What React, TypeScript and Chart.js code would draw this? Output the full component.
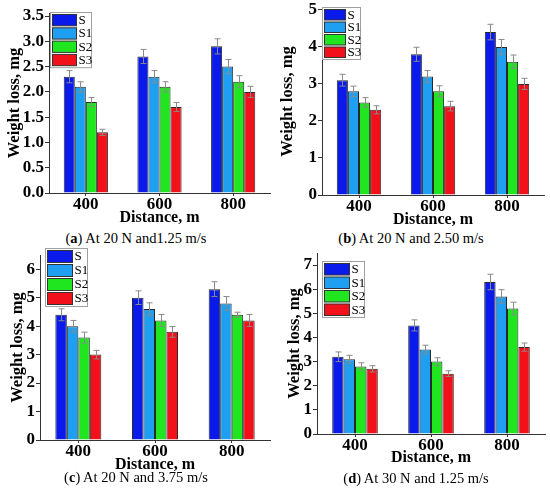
import { useEffect, useRef } from 'react'
import { Chart, registerables } from 'chart.js'

Chart.register(...registerables)

const distances = ['400', '600', '800']
const seriesNames = ['S', 'S1', 'S2', 'S3']
const seriesColors = ['#0a1aeb', '#1f9ff2', '#1fe61f', '#f2101a']

// weight loss in mg, one row per series (S, S1, S2, S3), one column per distance
const lossA = [
  [2.3, 2.7, 2.9],
  [2.1, 2.3, 2.5],
  [1.8, 2.1, 2.2],
  [1.2, 1.7, 2.0]
]
const errA = [
  [0.12, 0.14, 0.15],
  [0.1, 0.12, 0.14],
  [0.09, 0.1, 0.12],
  [0.06, 0.09, 0.11]
]
const ticksA = [0, 0.5, 1, 1.5, 2, 2.5, 3, 3.5]

const lossB = [
  [3.1, 3.8, 4.4],
  [2.8, 3.2, 4.0],
  [2.5, 2.8, 3.6],
  [2.3, 2.4, 3.0]
]
const errB = [
  [0.16, 0.19, 0.21],
  [0.14, 0.16, 0.2],
  [0.13, 0.15, 0.18],
  [0.11, 0.13, 0.15]
]
const ticksB = [0, 1, 2, 3, 4, 5]

const lossC = [
  [4.4, 5.0, 5.3],
  [4.0, 4.6, 4.8],
  [3.6, 4.2, 4.4],
  [3.0, 3.8, 4.2]
]
const errC = [
  [0.21, 0.24, 0.26],
  [0.2, 0.22, 0.24],
  [0.19, 0.21, 0.09],
  [0.15, 0.19, 0.21]
]
const ticksC = [0, 1, 2, 3, 4, 5, 6]

const lossD = [
  [3.2, 4.5, 6.3],
  [3.1, 3.5, 5.7],
  [2.8, 3.0, 5.2],
  [2.7, 2.5, 3.6]
]
const errD = [
  [0.2, 0.23, 0.32],
  [0.16, 0.18, 0.28],
  [0.15, 0.16, 0.26],
  [0.13, 0.12, 0.17]
]
const ticksD = [0, 1, 2, 3, 4, 5, 6, 7]

const serif = '"Liberation Serif", "Times New Roman", serif'

const errorBars = {
  id: 'errorBars',
  afterDatasetsDraw(chart: any) {
    const { ctx } = chart
    const yScale = chart.scales.y
    ctx.save()
    ctx.strokeStyle = '#8a8a8a'
    ctx.lineWidth = 1
    chart.data.datasets.forEach((ds: any, i: number) => {
      const meta = chart.getDatasetMeta(i)
      meta.data.forEach((bar: any, j: number) => {
        const v = ds.data[j]
        const e = ds.errors[j]
        const x = Math.round(bar.x) + 0.5
        const top = yScale.getPixelForValue(v + e)
        const bot = yScale.getPixelForValue(v - e)
        ctx.beginPath()
        ctx.moveTo(x, top)
        ctx.lineTo(x, bot)
        ctx.moveTo(x - 3, top)
        ctx.lineTo(x + 3, top)
        ctx.moveTo(x - 3, bot)
        ctx.lineTo(x + 3, bot)
        ctx.stroke()
      })
    })
    ctx.restore()
  }
}

const boxLegend = {
  id: 'boxLegend',
  afterDraw(chart: any, _args: any, opts: any) {
    const { ctx, chartArea } = chart
    const x0 = Math.round(chartArea.left + opts.dx) + 0.5
    const y0 = Math.round(chartArea.top + opts.dy) + 0.5
    const sets = chart.data.datasets
    const w = opts.swatch + 17
    const h = sets.length * opts.row + 2
    ctx.save()
    ctx.fillStyle = '#ffffff'
    ctx.fillRect(x0, y0, w, h)
    ctx.strokeStyle = '#a0a0a0'
    ctx.lineWidth = 1
    ctx.strokeRect(x0, y0, w, h)
    ctx.font = `13px ${serif}`
    ctx.textBaseline = 'middle'
    sets.forEach((ds: any, i: number) => {
      const sy = y0 + 1 + i * opts.row
      ctx.fillStyle = ds.backgroundColor
      ctx.fillRect(x0 + 2, sy + 1, opts.swatch, opts.row - 2)
      ctx.strokeStyle = '#333333'
      ctx.strokeRect(x0 + 2, sy + 1, opts.swatch, opts.row - 2)
      ctx.fillStyle = '#000000'
      ctx.fillText(ds.label, x0 + opts.swatch + 4, sy + opts.row / 2 + 0.5)
    })
    ctx.restore()
  }
}

interface PanelProps {
  loss: number[][]
  err: number[][]
  ticks: number[]
  decimals: number
  yMax: number
  left: number
  top: number
  height: number
  axisX: number
  areaTop: number
  padRight: number
  xAxisH: number
  titlePad: number
  legend: { dx: number; dy: number; row: number; swatch: number }
  caption: string
  tag: string
  capX: number
  capY: number
}

function Panel(p: PanelProps) {
  const canvasRef = useRef<HTMLCanvasElement>(null)

  useEffect(() => {
    if (!canvasRef.current) return () => {}
    const chart = new Chart(canvasRef.current, {
      type: 'bar',
      data: {
        labels: distances,
        datasets: seriesNames.map((name, i) => ({
          label: name,
          data: p.loss[i],
          errors: p.err[i],
          backgroundColor: seriesColors[i],
          borderColor: '#2a2a2a',
          borderWidth: 1,
          categoryPercentage: 0.6,
          barPercentage: 1
        })) as any
      },
      options: {
        animation: false,
        responsive: false,
        layout: { padding: { top: p.areaTop, right: p.padRight, left: 0, bottom: 0 } },
        plugins: {
          legend: { display: false },
          tooltip: { enabled: false },
          boxLegend: p.legend
        } as any,
        scales: {
          x: {
            type: 'category',
            offset: true,
            grid: {
              drawOnChartArea: false,
              drawTicks: true,
              tickLength: 3,
              color: '#333333',
              offset: false
            },
            border: { display: true, color: '#333333' },
            ticks: {
              color: '#000000',
              padding: -2,
              font: { family: serif, size: 17, weight: 'bold' }
            },
            title: {
              display: true,
              text: 'Distance, m',
              color: '#000000',
              padding: 0,
              font: { family: serif, size: 16, weight: 'bold' }
            },
            afterFit(s: any) {
              s.height = p.xAxisH
              s.paddingLeft = 0
              s.paddingRight = 0
            }
          },
          y: {
            type: 'linear',
            min: 0,
            max: p.yMax,
            afterBuildTicks(s: any) {
              s.ticks = p.ticks.map(v => ({ value: v }))
            },
            grid: {
              drawOnChartArea: false,
              drawTicks: true,
              tickLength: 4,
              color: '#333333'
            },
            border: { display: true, color: '#333333' },
            ticks: {
              color: '#000000',
              padding: 1,
              font: { family: serif, size: 17, weight: 'bold' },
              callback: (v: any) => Number(v).toFixed(p.decimals)
            },
            title: {
              display: true,
              text: 'Weight loss, mg',
              color: '#000000',
              padding: { top: p.titlePad, bottom: 0 },
              font: { family: serif, size: 16.5, weight: 'bold' }
            },
            afterFit(s: any) {
              s.width = p.axisX
              s.paddingTop = 0
              s.paddingBottom = 0
            }
          }
        }
      },
      plugins: [errorBars, boxLegend]
    })
    return () => {
      chart.destroy()
    }
  }, [p])

  return (
    <>
      <canvas
        ref={canvasRef}
        width={275}
        height={p.height}
        style={{ position: 'absolute', left: p.left, top: p.top, width: 275, height: p.height }}
      />
      <div
        style={{
          position: 'absolute',
          left: p.capX,
          top: p.capY - 9,
          transform: 'translateX(-50%)',
          whiteSpace: 'nowrap',
          fontFamily: serif,
          fontSize: 14.5,
          lineHeight: '18px',
          color: '#000'
        }}
      >
        (<b>{p.tag}</b>) {p.caption}
      </div>
    </>
  )
}

const panelA: PanelProps = {
  loss: lossA, err: errA, ticks: ticksA, decimals: 1, yMax: 3.56,
  left: 0, top: 0, height: 227, axisX: 49, areaTop: 13, padRight: 5, xAxisH: 34, titlePad: 5,
  legend: { dx: 1, dy: -1, row: 13.3, swatch: 24 },
  tag: 'a', caption: 'At 20 N and1.25 m/s', capX: 136, capY: 238
}
const panelB: PanelProps = {
  loss: lossB, err: errB, ticks: ticksB, decimals: 0, yMax: 5.05,
  left: 275, top: 0, height: 229, axisX: 47, areaTop: 8, padRight: 6, xAxisH: 34, titlePad: 3,
  legend: { dx: 0, dy: -1, row: 12.5, swatch: 21 },
  tag: 'b', caption: 'At 20 N and 2.50 m/s', capX: 411, capY: 238
}
const panelC: PanelProps = {
  loss: lossC, err: errC, ticks: ticksC, decimals: 0, yMax: 6.5,
  left: 0, top: 248, height: 226, axisX: 40, areaTop: 7, padRight: 5, xAxisH: 34, titlePad: 8,
  legend: { dx: 5, dy: -7, row: 14, swatch: 25 },
  tag: 'c', caption: 'At 20 N and 3.75 m/s', capX: 136, capY: 477
}
const panelD: PanelProps = {
  loss: lossD, err: errD, ticks: ticksD, decimals: 0, yMax: 7.5,
  left: 275, top: 248, height: 219, axisX: 42, areaTop: 5, padRight: 5, xAxisH: 33, titlePad: 10,
  legend: { dx: 5, dy: 8, row: 13.5, swatch: 25 },
  tag: 'd', caption: 'At 30 N and 1.25 m/s', capX: 416, capY: 478
}

export default function App() {
  return (
    <div
      style={{
        position: 'absolute',
        left: 0,
        top: 0,
        width: 550,
        height: 498,
        background: '#ffffff',
        overflow: 'hidden'
      }}
    >
      <Panel {...panelA} />
      <Panel {...panelB} />
      <Panel {...panelC} />
      <Panel {...panelD} />
    </div>
  )
}
